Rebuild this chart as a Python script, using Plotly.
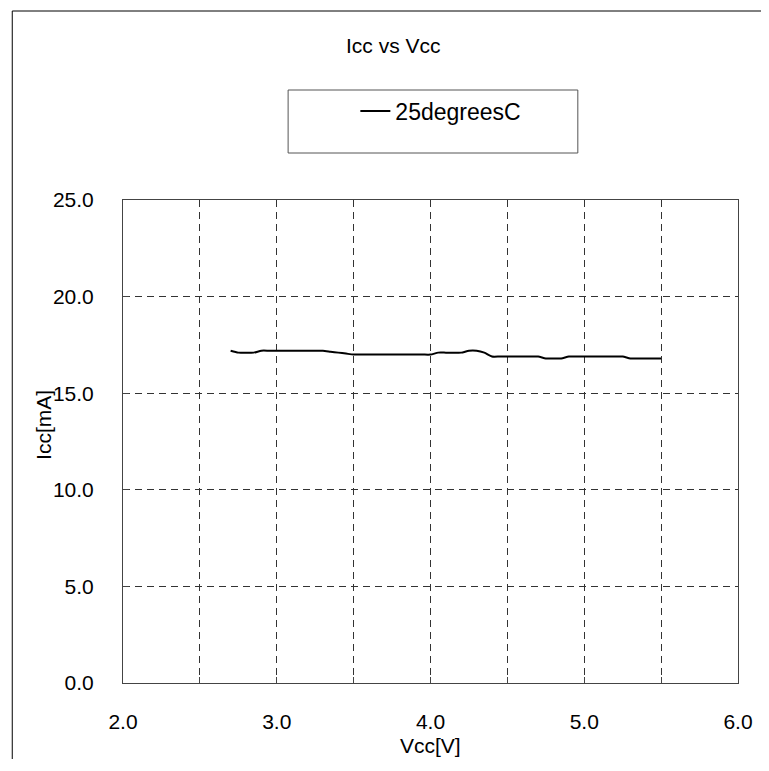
import plotly.graph_objects as go

vcc = [2.70, 2.75, 2.80, 2.85, 2.90, 2.95, 3.00, 3.05, 3.10, 3.15, 3.20, 3.25, 3.30,
       3.35, 3.40, 3.45, 3.50, 3.55, 3.60, 3.65, 3.70, 3.75, 3.80, 3.85, 3.90, 3.95,
       4.00, 4.05, 4.10, 4.15, 4.20, 4.25, 4.30, 4.35, 4.40, 4.45, 4.50, 4.55, 4.60,
       4.65, 4.70, 4.75, 4.80, 4.85, 4.90, 4.95, 5.00, 5.05, 5.10, 5.15, 5.20, 5.25,
       5.30, 5.35, 5.40, 5.45, 5.50]
icc_25c = [17.2, 17.1, 17.1, 17.1, 17.2, 17.2, 17.2, 17.2, 17.2, 17.2, 17.2, 17.2, 17.2,
           17.15, 17.1, 17.05, 17.0, 17.0, 17.0, 17.0, 17.0, 17.0, 17.0, 17.0, 17.0, 17.0,
           17.0, 17.1, 17.1, 17.1, 17.1, 17.2, 17.2, 17.1, 16.9, 16.9, 16.9, 16.9, 16.9,
           16.9, 16.9, 16.8, 16.8, 16.8, 16.9, 16.9, 16.9, 16.9, 16.9, 16.9, 16.9, 16.9,
           16.8, 16.8, 16.8, 16.8, 16.8]
series_name = "25degreesC"
x_ticks = [2.0, 3.0, 4.0, 5.0, 6.0]
y_ticks = [0.0, 5.0, 10.0, 15.0, 20.0, 25.0]

W, H = 757, 751
OFF = 8  # page body margin
L, R, T, B = 115, 20, 192, 76
pw, ph = W - L - R, H - T - B

def px(xs):
    return (xs - OFF - L) / pw

def py(ys):
    return 1 - (ys - OFF - T) / ph

font = "Liberation Sans, Arial, sans-serif"

fig = go.Figure()
fig.add_trace(go.Scatter(x=vcc, y=icc_25c, mode="lines", name=series_name,
                         line=dict(color="black", width=2, shape="spline", smoothing=0.6)))

axis_common = dict(showline=True, linecolor="#444", linewidth=1, mirror=True,
                   showgrid=True, gridcolor="#333", griddash="7px,5px", gridwidth=1,
                   ticks="inside", ticklen=6, tickcolor="#444", zeroline=False,
                   tickfont=dict(family=font, size=21, color="black"))

fig.update_xaxes(range=[2, 6], tickvals=x_ticks, ticktext=[f"{v:.1f}" for v in x_ticks],
                 ticklabelstandoff=20, **axis_common)
fig.update_xaxes(minor=dict(dtick=0.5, ticks="inside", ticklen=6, tickcolor="#444",
                            showgrid=True, gridcolor="#333", griddash="7px,5px"))
fig.update_yaxes(range=[0, 25], tickvals=y_ticks, ticktext=[f"{v:.1f}" for v in y_ticks],
                 ticklabelstandoff=24, **axis_common)

fig.update_layout(
    width=W, height=H,
    margin=dict(l=L, r=R, t=T, b=B),
    paper_bgcolor="white", plot_bgcolor="white",
    showlegend=True,
    legend=dict(x=px(358), y=py(111), xanchor="left", yanchor="middle",
                bgcolor="rgba(0,0,0,0)", borderwidth=0,
                font=dict(family=font, size=23, color="black")),
    shapes=[
        dict(type="line", xref="paper", yref="paper",
             x0=px(11), x1=px(900), y0=py(11), y1=py(11),
             line=dict(color="black", width=1)),
        dict(type="line", xref="paper", yref="paper",
             x0=px(11), x1=px(11), y0=py(11), y1=py(900),
             line=dict(color="black", width=1)),
        dict(type="rect", xref="paper", yref="paper",
             x0=px(290), x1=px(583), y0=py(153), y1=py(90),
             line=dict(color="#555", width=1), fillcolor="rgba(0,0,0,0)"),
    ],
    annotations=[
        dict(text="Icc vs Vcc", xref="paper", yref="paper", x=px(347), y=py(45),
             showarrow=False, font=dict(family=font, size=21, color="black"),
             xanchor="left", yanchor="middle"),
        dict(text="Vcc[V]", xref="paper", yref="paper", x=px(434), y=py(745),
             showarrow=False, font=dict(family=font, size=21, color="black"),
             xanchor="center", yanchor="middle"),
        dict(text="Icc[mA]", xref="paper", yref="paper", x=px(42), y=py(425),
             showarrow=False, textangle=-90, font=dict(family=font, size=21, color="black"),
             xanchor="center", yanchor="middle"),
    ],
)

fig.write_html("out.html")
